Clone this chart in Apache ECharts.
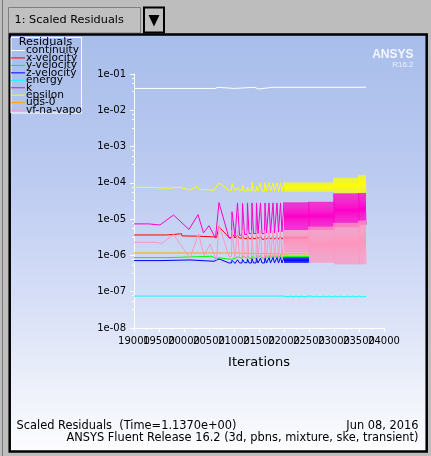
<!DOCTYPE html>
<html>
<head>
<meta charset="utf-8">
<script src="https://cdn.jsdelivr.net/npm/echarts@6/dist/echarts.min.js"></script>
<style>
html,body{margin:0;padding:0;background:#bdbdbd;}
#chart{width:431px;height:456px;}
</style>
</head>
<body>
<div id="chart"></div>
<script>
//---------------------------Data---------------------------
//residual names & colours, in legend order
let names = ['continuity','x-velocity','y-velocity','z-velocity','energy','k','epsilon','uds-0','vf-na-vapor'];
let colors = ['#ffffff','#ff0000','#00ff00','#0000ff','#00ffff','#ff00c8','#ffff00','#ffa500','#ff96be'];

//axis range & iteration tick labels
let iterMin = 19000, iterMax = 24000, iterStep = 500;
let iterTicks = [19000,19500,20000,20500,21000,21500,22000,22500,23000,23500,24000];
let resMin = 1e-8, resMax = 1e-1;

//quiet part of the run, [iteration, residual]
let contEarly = [[19000,4.0e-2],[20620,4.0e-2],[20630,4.3e-2],[20680,4.3e-2],[20690,4.0e-2],[21000,4.0e-2],[21010,4.3e-2],[21420,4.3e-2],[21430,3.85e-2],[21480,3.85e-2],[21490,4.3e-2],[21780,4.3e-2],[21790,4.1e-2],[21820,4.1e-2],[21830,4.3e-2],[23640,4.3e-2]];
let xEarly = [[19000,3.66e-6],[19650,3.66e-6],[19660,3.95e-6],[19950,3.95e-6],[19960,3.45e-6],[20250,3.4e-6],[20260,3.25e-6],[20600,3.25e-6],[20650,3.1e-6]];
let yEarly = [[19000,8.7e-7],[19680,8.7e-7],[19690,9.5e-7],[20560,9.5e-7],[20640,8.0e-7]];
let zEarly = [[19000,7.2e-7],[19520,7.2e-7],[19530,7.5e-7],[20120,7.5e-7],[20130,6.9e-7],[20600,6.9e-7],[20640,6.1e-7]];
let energyEarly = [[19000,7.6e-8],[20620,7.6e-8],[20630,7.0e-8],[20650,7.6e-8],[20950,7.6e-8],[20960,7.1e-8],[20980,7.6e-8],[22000,7.6e-8]];
let kEarly = [[19000,7.4e-6],[19290,7.4e-6],[19300,6.9e-6],[19520,6.9e-6],[19790,1.3e-5],[20100,5.2e-6],[20280,1.33e-5],[20390,4.2e-6],[20500,6.6e-6],[20630,3.0e-6]];
let epsEarly = [[19000,7.55e-5],[19280,7.55e-5],[19290,7.1e-5],[19660,7.1e-5],[19670,7.55e-5],[19920,7.55e-5],[19930,7.1e-5],[20060,6.6e-5],[20120,6.3e-5],[20250,8.0e-5],[20300,6.6e-5],[20450,6.5e-5],[20600,6.2e-5]];
let udsEarly = [[19000,1.17e-6],[20990,1.17e-6],[21000,1.1e-6],[22000,1.1e-6]];
let vfEarly = [[19000,2.3e-6],[19420,2.3e-6],[19440,2.15e-6],[19560,2.15e-6],[19790,3.8e-6],[20120,8.4e-7],[20290,4.0e-6],[20400,1.0e-6],[20520,2.05e-6],[20650,7.4e-7]];

//time step starts where the residuals spike, and how long each spike takes to fall back
let stepIters = [20700,20960,21070,21170,21270,21360,21450,21530,21620,21700,21780,21860,21930];
let stepDecay = [200,60,40,40,30,30,30,30,30,30,30,30,30];
let denseStart = 22000;

//spike tops and bottoms for each step
let xPeak = [6.2e-6,4.0e-6,3.6e-6,3.5e-6,3.5e-6,3.4e-6,3.4e-6,3.4e-6,3.3e-6,3.3e-6,3.3e-6,3.3e-6,3.3e-6];
let xLow = [3.1e-6,3.0e-6,3.0e-6,2.9e-6,2.9e-6,2.9e-6,2.9e-6,2.8e-6,2.8e-6,2.8e-6,2.8e-6,2.8e-6,2.8e-6];
let yPeak = [8.6e-7,8.8e-7,9.2e-7,9.5e-7,9.6e-7,9.8e-7,1.0e-6,1.0e-6,1.0e-6,1.0e-6,1.0e-6,1.0e-6,1.0e-6];
let yLow = [7.9e-7,8.2e-7,8.3e-7,8.4e-7,8.4e-7,8.4e-7,8.4e-7,8.4e-7,8.4e-7,8.4e-7,8.4e-7,8.4e-7,8.4e-7];
let zPeak = [8.0e-7,7.4e-7,7.6e-7,7.8e-7,8.0e-7,8.2e-7,8.4e-7,8.5e-7,8.6e-7,8.7e-7,8.8e-7,8.8e-7,8.8e-7];
let zLow = [6.2e-7,6.0e-7,6.2e-7,6.3e-7,6.2e-7,6.2e-7,6.2e-7,6.2e-7,6.2e-7,6.2e-7,6.2e-7,6.2e-7,6.2e-7];
let kPeak = [2.85e-5,1.6e-5,2.8e-5,2.7e-5,2.8e-5,2.8e-5,2.8e-5,2.8e-5,2.8e-5,2.8e-5,2.8e-5,2.8e-5,2.8e-5];
let kLow = [3.0e-6,3.3e-6,3.6e-6,3.8e-6,4.0e-6,4.0e-6,4.0e-6,4.0e-6,4.2e-6,4.2e-6,4.2e-6,4.4e-6,4.5e-6];
let epsPeak = [1.0e-4,9.7e-5,7.4e-5,8.7e-5,7.6e-5,1.05e-4,8.0e-5,1.0e-4,1.0e-4,1.02e-4,1.0e-4,1.02e-4,1.0e-4];
let epsLow = [6.2e-5,6.0e-5,6.2e-5,6.0e-5,6.1e-5,6.0e-5,6.0e-5,5.9e-5,6.0e-5,5.9e-5,5.9e-5,5.8e-5,5.8e-5];
let vfPeak = [6.9e-6,5.0e-6,4.8e-6,5.0e-6,4.8e-6,5.0e-6,4.8e-6,5.0e-6,5.0e-6,5.0e-6,5.0e-6,5.0e-6,5.0e-6];
let vfLow = [9.3e-7,8.5e-7,8.5e-7,8.6e-7,8.5e-7,8.5e-7,8.5e-7,8.5e-7,8.5e-7,8.5e-7,8.5e-7,8.5e-7,8.5e-7];

//dense oscillation at the end, [from, to, top, bottom], one swing per time step
let denseStep = 40;
let xBands = [[22000,22500,3.3e-6,2.8e-6]];
let yBands = [[22000,22500,9.8e-7,8.4e-7]];
let zBands = [[22000,22500,8.8e-7,6.2e-7]];
let energyBands = [[22000,22500,7.6e-8,7.2e-8],[22500,23640,7.6e-8,7.1e-8]];
let kBands = [[22000,22500,2.9e-5,5.0e-6],[22500,23000,3.0e-5,5.0e-6],[23000,23500,5.1e-5,6.0e-6],[23500,23640,5.3e-5,7.0e-6]];
let epsBands = [[22000,23000,1.02e-4,5.7e-5],[23000,23500,1.38e-4,5.3e-5],[23500,23640,1.65e-4,5.3e-5]];
let udsBands = [[22000,22500,1.12e-6,1.08e-6]];
let vfBands = [[22000,22500,5.0e-6,1.2e-6],[22500,23000,6.2e-6,6.3e-7],[23000,23500,7.9e-6,5.7e-7],[23500,23640,9.1e-6,5.7e-7]];

//footer text
let footLeft = 'Scaled Residuals  (Time=1.1370e+00)';
let footDate = 'Jun 08, 2016';
let footRelease = 'ANSYS Fluent Release 16.2 (3d, pbns, mixture, ske, transient)';

//---------------------------Build---------------------------
function buildSeries(early, peaks, lows, bands) {
    let pts = early.slice();
    for (let i = 0; i < peaks.length; i++) {
        let next = i + 1 < stepIters.length ? stepIters[i + 1] : denseStart;
        pts.push([stepIters[i], peaks[i]]);
        if (stepIters[i] + stepDecay[i] < next - 10) {
            pts.push([stepIters[i] + stepDecay[i], lows[i]]);
        }
        pts.push([next - 10, lows[i]]);
    }
    for (let b = 0; b < bands.length; b++) {
        let band = bands[b];
        for (let it = band[0]; it < band[1]; it += denseStep) {
            pts.push([it, band[2]]);
            pts.push([it + denseStep / 2, band[3]]);
        }
    }
    return pts;
}

let seriesData = [
    buildSeries(contEarly, [], [], []),
    buildSeries(xEarly, xPeak, xLow, xBands),
    buildSeries(yEarly, yPeak, yLow, yBands),
    buildSeries(zEarly, zPeak, zLow, zBands),
    buildSeries(energyEarly, [], [], energyBands),
    buildSeries(kEarly, kPeak, kLow, kBands),
    buildSeries(epsEarly, epsPeak, epsLow, epsBands),
    buildSeries(udsEarly, [], [], udsBands),
    buildSeries(vfEarly, vfPeak, vfLow, vfBands)
];

let series = [];
for (let i = 0; i < names.length; i++) {
    series.push({
        type: 'line',
        name: names[i],
        data: seriesData[i],
        showSymbol: false,
        symbol: 'none',
        silent: true,
        lineStyle: {color: colors[i], width: 1},
        z: 2 + i
    });
}

//---------------------------Decoration---------------------------
let uiFont = '"DejaVu Sans"';
let graphics = [
    //left bevel of the window
    {type: 'line', z: -20, shape: {x1: 2.5, y1: 0, x2: 2.5, y2: 456}, style: {stroke: '#7a7a7a', lineWidth: 1}},
    //drop-down
    {type: 'rect', z: -20, shape: {x: 8.5, y: 7.5, width: 132, height: 25.5}, style: {fill: '#c0c0c0', stroke: '#7f7f7f', lineWidth: 1}},
    {type: 'text', z: -19, x: 14.5, y: 20.5, style: {text: '1: Scaled Residuals', font: '11.3px ' + uiFont, fill: '#000', verticalAlign: 'middle'}},
    {type: 'rect', z: -20, shape: {x: 144, y: 7.5, width: 20, height: 25}, style: {fill: '#c0c0c0', stroke: '#000', lineWidth: 2}},
    {type: 'polygon', z: -19, shape: {points: [[148.5, 15], [159.5, 15], [154, 26.5]]}, style: {fill: '#000'}},
    //plot panel
    {type: 'rect', z: -20, shape: {x: 9.7, y: 34.4, width: 417, height: 417},
        style: {
            fill: {type: 'linear', x: 0, y: 0, x2: 0, y2: 1, colorStops: [
                {offset: 0, color: '#a7bdea'}, {offset: 0.35, color: '#bccbf1'},
                {offset: 0.65, color: '#d8e0f7'}, {offset: 0.85, color: '#eef1fb'}, {offset: 1, color: '#fdfdff'}]},
            stroke: '#000', lineWidth: 2.5
        }},
    //ANSYS mark
    {type: 'text', z: -19, x: 413.5, y: 55, style: {text: 'ANSYS', font: 'bold 12px "Liberation Sans"', fill: '#f4f7ff', align: 'right', verticalAlign: 'middle'}},
    {type: 'text', z: -19, x: 413.5, y: 64.5, style: {text: 'R16.2', font: '8px "Liberation Sans"', fill: '#eef2ff', align: 'right', verticalAlign: 'middle'}},
    //footer
    {type: 'text', z: -19, x: 16.5, y: 426.5, style: {text: footLeft, font: '11.4px ' + uiFont, fill: '#000', verticalAlign: 'middle'}},
    {type: 'text', z: -19, x: 418.5, y: 426.5, style: {text: footDate, font: '11.4px ' + uiFont, fill: '#000', align: 'right', verticalAlign: 'middle'}},
    {type: 'text', z: -19, x: 418.5, y: 437.8, style: {text: footRelease, font: '11.4px ' + uiFont, fill: '#000', align: 'right', verticalAlign: 'middle'}},
    //legend box
    {type: 'rect', z: 10, shape: {x: 11, y: 37.5, width: 70.5, height: 75.5}, style: {fill: null, stroke: '#ffffff', lineWidth: 1}},
    {type: 'text', z: 10, x: 45.5, y: 42.5, style: {text: 'Residuals', font: '11.3px ' + uiFont, fill: '#000', align: 'center', verticalAlign: 'middle'}}
];

for (let i = 0; i < names.length; i++) {
    let y = 50.5 + i * 7.45;
    graphics.push({type: 'line', z: 10, shape: {x1: 11, y1: y, x2: 25, y2: y}, style: {stroke: colors[i], lineWidth: 1}});
    graphics.push({type: 'text', z: 10, x: 26, y: y, style: {text: names[i], font: '10.6px ' + uiFont, fill: '#000', verticalAlign: 'middle', width: 57, overflow: 'truncate', ellipsis: ''}});
}

//---------------------------Chart---------------------------
let chart = echarts.init(document.getElementById('chart'));

let option = {
    backgroundColor: '#bdbdbd',
    animation: false,
    grid: {left: 134, right: 47, top: 74, bottom: 128, outerBoundsMode: 'none'},
    xAxis: {
        type: 'value', min: iterMin, max: iterMax, interval: iterStep,
        name: 'Iterations', nameLocation: 'middle', nameGap: 28,
        nameTextStyle: {fontFamily: 'DejaVu Sans', fontSize: 13, color: '#000'},
        axisLine: {show: true, onZero: false, lineStyle: {color: '#fff', width: 1}},
        axisTick: {show: true, length: 4, lineStyle: {color: '#fff'}},
        minorTick: {show: true, splitNumber: 2, length: 2, lineStyle: {color: '#fff'}},
        //the labels run into each other; echarts would drop some, so they are placed below
        axisLabel: {show: false},
        splitLine: {show: false}
    },
    yAxis: {
        type: 'log', logBase: 10, min: resMin, max: resMax,
        axisLine: {show: true, lineStyle: {color: '#fff', width: 1}},
        axisTick: {show: true, length: 4, lineStyle: {color: '#fff'}},
        minorTick: {show: true, splitNumber: 4, length: 2, lineStyle: {color: '#fff'}},
        axisLabel: {
            color: '#000', fontFamily: 'DejaVu Sans', fontSize: 10, margin: 8, showMinLabel: true, showMaxLabel: true,
            formatter: function (v) {
                let e = Math.round(Math.log10(v));
                return '1e-' + String(-e).padStart(2, '0');
            }
        },
        splitLine: {show: false}
    },
    graphic: graphics,
    series: series
};

chart.setOption(option);

//iteration tick labels, positioned through the x axis scale
let axisY = chart.convertToPixel({yAxisIndex: 0}, resMin);
for (let i = 0; i < iterTicks.length; i++) {
    let px = chart.convertToPixel({xAxisIndex: 0}, iterTicks[i]);
    graphics.push({type: 'text', z: 10, x: px, y: axisY + 13.5, style: {text: String(iterTicks[i]), font: '10px ' + uiFont, fill: '#000', align: 'center', verticalAlign: 'middle'}});
}
chart.setOption({graphic: graphics});
</script>
</body>
</html>
